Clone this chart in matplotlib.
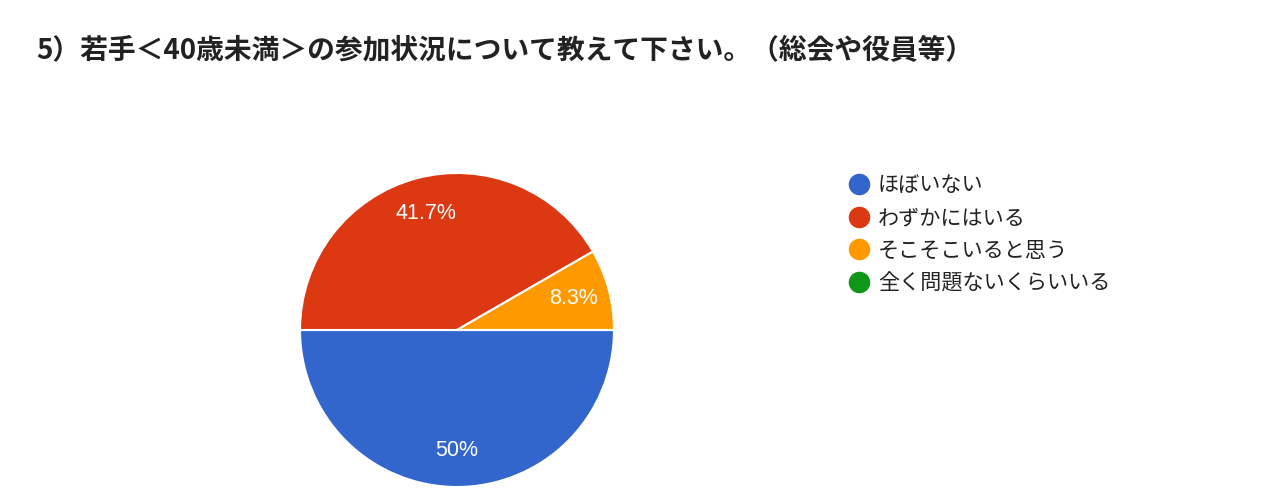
import matplotlib.pyplot as plt
from matplotlib.lines import Line2D

plt.rcParams['font.family'] = ['Noto Sans CJK JP', 'DejaVu Sans']

title = '5）若手＜40歳未満＞の参加状況について教えて下さい。（総会や役員等）'
labels = ['ほぼいない', 'わずかにはいる', 'そこそこいると思う', '全く問題ないくらいいる']
counts = [6, 5, 1, 0]
colors = ['#3366CC', '#DC3912', '#FF9900', '#109618']


def pct_fmt(p):
    if p < 0.05:
        return ''
    s = '%.1f' % p
    if s.endswith('.0'):
        s = s[:-2]
    return s + '%'


fig = plt.figure(figsize=(12.75, 4.91), dpi=100)
fig.text(36 / 1275, 1 - 51 / 491, title, fontsize=20, fontweight='bold',
         color='#222222', va='center', ha='left')

ax = fig.add_axes([300 / 1275, 4 / 491, 314 / 1275, 314 / 491])
wedges, texts, autotexts = ax.pie(
    counts, colors=colors, startangle=0, counterclock=False,
    autopct=pct_fmt, pctdistance=0.77,
    wedgeprops=dict(edgecolor='white', linewidth=1.5),
    textprops=dict(color='white', fontsize=15.5, family=['Arial', 'Liberation Sans', 'DejaVu Sans']))
ax.set_xlim(-1.0, 1.0)
ax.set_ylim(-1.0, 1.0)

handles = [Line2D([], [], marker='o', linestyle='none', markersize=14.5,
                  markerfacecolor=c, markeredgecolor=c) for c in colors]
fig.legend(handles, labels, loc='upper left',
           bbox_to_anchor=(840 / 1275, 1 - 166 / 491), frameon=False,
           fontsize=15.2, labelcolor='#222222', handlelength=1.0,
           handletextpad=0.4, labelspacing=0.5, borderaxespad=0)

fig.savefig('out.png', dpi=100)
